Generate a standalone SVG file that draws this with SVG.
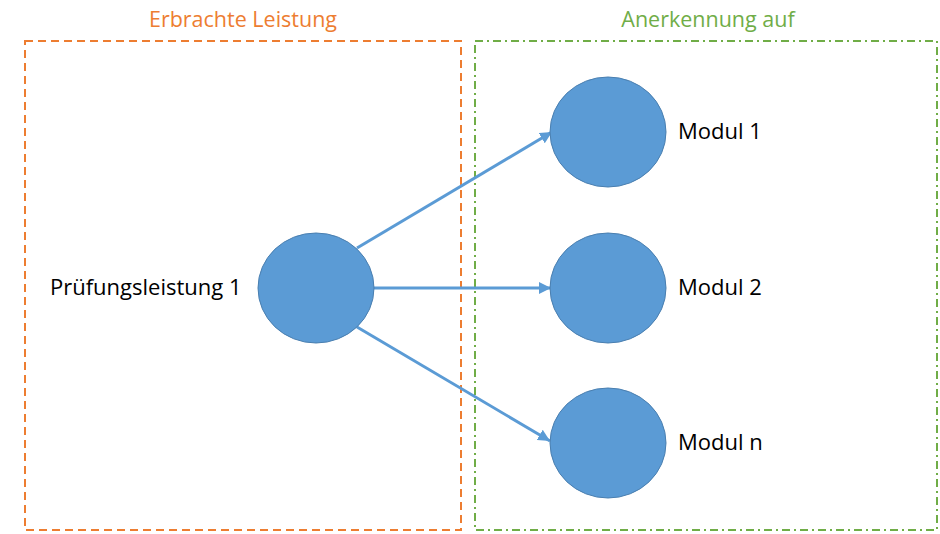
<svg xmlns="http://www.w3.org/2000/svg" width="940" height="534" viewBox="0 0 940 534">
<style>
.node{fill:#5B9BD5;stroke:#4A7FB0;stroke-width:1}
.lbl{font-family:"Open Sans","Liberation Sans",sans-serif;font-size:22px;fill:#000}
.ttl{font-family:"Open Sans","Liberation Sans",sans-serif;font-size:21.5px;text-anchor:middle}
.con{stroke:#5B9BD5;stroke-width:3;fill:none;marker-end:url(#ah)}
</style>
<defs>
<marker id="ah" viewBox="0 0 10 10" refX="10" refY="5" markerWidth="4" markerHeight="4" orient="auto" markerUnits="strokeWidth">
<path d="M0,0 L10,5 L0,10 z" fill="#5B9BD5"/>
</marker>
</defs>
<rect width="940" height="534" fill="#fff"/>
<g id="group-erbracht">
<rect x="25" y="41" width="436" height="489" fill="none" stroke="#ED7D31" stroke-width="2" stroke-dasharray="8,5"/>
<text class="ttl" x="243" y="27" fill="#ED7D31">Erbrachte Leistung</text>
</g>
<g id="group-anerkennung">
<rect x="475" y="41" width="462" height="489" fill="none" stroke="#70AD47" stroke-width="2" stroke-dasharray="8,4,2,4"/>
<text class="ttl" x="708" y="27" fill="#70AD47">Anerkennung auf</text>
</g>
<g id="connectors">
<line class="con" x1="357" y1="248" x2="552" y2="132"/>
<line class="con" x1="374" y1="288" x2="551" y2="288"/>
<line class="con" x1="357" y1="327" x2="550" y2="441"/>
</g>
<g id="pruefung">
<ellipse class="node" cx="316" cy="288" rx="58" ry="55"/>
<text class="lbl" x="50" y="295">Prüfungsleistung 1</text>
</g>
<g id="modul1">
<ellipse class="node" cx="608" cy="132" rx="58" ry="55"/>
<text class="lbl" x="678" y="139">Modul 1</text>
</g>
<g id="modul2">
<ellipse class="node" cx="608" cy="288" rx="58" ry="55"/>
<text class="lbl" x="678" y="295">Modul 2</text>
</g>
<g id="moduln">
<ellipse class="node" cx="608" cy="443" rx="58" ry="55"/>
<text class="lbl" x="678" y="450">Modul n</text>
</g>
</svg>
